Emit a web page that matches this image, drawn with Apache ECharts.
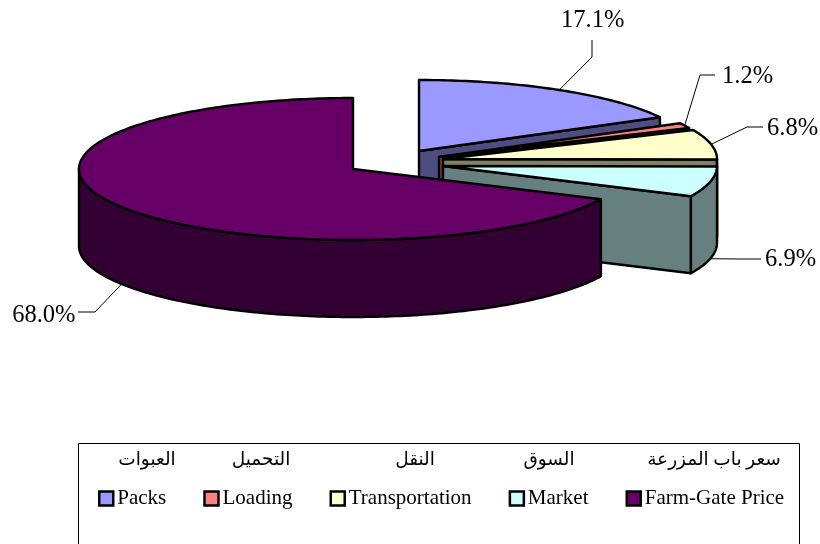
<!DOCTYPE html>
<html><head><meta charset="utf-8">
<style>html,body{margin:0;padding:0;background:#fff}#c{width:820px;height:544px}</style>
<script src="https://cdn.jsdelivr.net/npm/echarts@6/dist/echarts.min.js"></script>
</head><body><div id="c"></div>
<script>
const categories = ['Packs','Loading','Transportation','Market','Farm-Gate Price'];
const arabicNames = ['العبوات','التحميل','النقل','السوق','سعر باب المزرعة'];
const shares = [17.1,1.2,6.8,6.9,68.0];
const topColors = ['#9999FF','#FF8080','#FFFFCC','#CCFFFF','#660066'];
const wallColors = ['#4D4D80','#804040','#808066','#668080','#330033'];

// layout of the tilted pie (not data)
const RX = 274, RY = 71, DEPTH = 77;
const centres = [[419,151],[439,157],[443,159],[443,166],[353,169]];
const elbows = [[[592,57],[592,40]],[[700,75],[715,75]],[[747,127],[763,127]],[[741,259],[761,259]],[[95,312],[78,312]]];
const labelPos = [[561,21,'left'],[722,77,'left'],[767,129,'left'],[765,260,'left'],[75.5,316,'right']];
const arabicX = [147,261,415,549,714];
const FONT = '"Liberation Serif","Times New Roman",serif';
const AFONT = '"Liberation Serif","DejaVu Sans",sans-serif';

const total = shares.reduce((a,b)=>a+b,0);
function rad(d){return d*Math.PI/180;}
function pt(c,deg,dz){return [c[0]+RX*Math.sin(rad(deg)),c[1]-RY*Math.cos(rad(deg))+(dz||0)];}
function arc(c,a,b,dz){const n=Math.max(2,Math.ceil(Math.abs(b-a)));const p=[];for(let i=0;i<=n;i++)p.push(pt(c,a+(b-a)*i/n,dz));return p;}
const STROKE={stroke:'#000',lineWidth:2.4,lineJoin:'round'};
function poly(points,fill){return {type:'polygon',shape:{points},style:Object.assign({fill},STROKE)};}

function renderSlice(i){
  let acc=0;for(let k=0;k<i;k++)acc+=shares[k];
  const s=acc/total*360,e=(acc+shares[i])/total*360,c=centres[i];
  const kids=[];
  const cutWall=(deg)=>{const p=pt(c,deg);kids.push(poly([c,p,[p[0],p[1]+DEPTH],[c[0],c[1]+DEPTH]],wallColors[i]));};
  if(s>180&&s<360)cutWall(s);
  if(e>0&&e<180)cutWall(e);
  const ws=Math.max(s,90),we=Math.min(e,270);
  if(we>ws){kids.push(poly(arc(c,ws,we,0).concat(arc(c,we,ws,DEPTH)),wallColors[i]));}
  kids.push(poly([c].concat(arc(c,s,e,0)),topColors[i]));
  // leader line and value label
  const mid=(s+e)/2;
  const anchor=pt(c,mid,(mid>90&&mid<270)?DEPTH:0);
  kids.push({type:'polyline',shape:{points:[anchor].concat(elbows[i])},style:{stroke:'#000',lineWidth:1,fill:null}});
  const L=labelPos[i];
  kids.push({type:'text',style:{text:shares[i].toFixed(1)+'%',x:L[0],y:L[1],align:L[2],verticalAlign:'middle',font:'24.5px '+FONT,fill:'#000'}});
  return {type:'group',children:kids};
}

const series=categories.map((name,i)=>({
  type:'custom',name,coordinateSystem:'none',silent:true,
  itemStyle:{color:topColors[i]},
  data:[[shares[i]]],
  renderItem:()=>renderSlice(i)
}));

const chart=echarts.init(document.getElementById('c'),null,{renderer:'canvas'});
chart.setOption({
  animation:false,
  backgroundColor:'#fff',
  legend:{
    left:98,top:488,orient:'horizontal',itemGap:37,itemWidth:14,itemHeight:14,icon:'rect',
    selectedMode:false,
    padding:0,
    data:categories,
    itemStyle:{borderColor:'#000',borderWidth:2.5},
    textStyle:{fontFamily:FONT,fontSize:21,color:'#000',padding:[0,0,0,-1]}
  },
  graphic:[
    {type:'rect',silent:true,z:-1,shape:{x:78.5,y:443.5,width:721,height:130},style:{fill:'#fff',stroke:'#000',lineWidth:1}}
  ].concat(arabicNames.map((t,i)=>({type:'text',silent:true,style:{text:t,x:arabicX[i],y:460,align:'center',verticalAlign:'middle',font:'18.5px '+AFONT,fill:'#000'}}))),
  series
});
</script></body></html>
